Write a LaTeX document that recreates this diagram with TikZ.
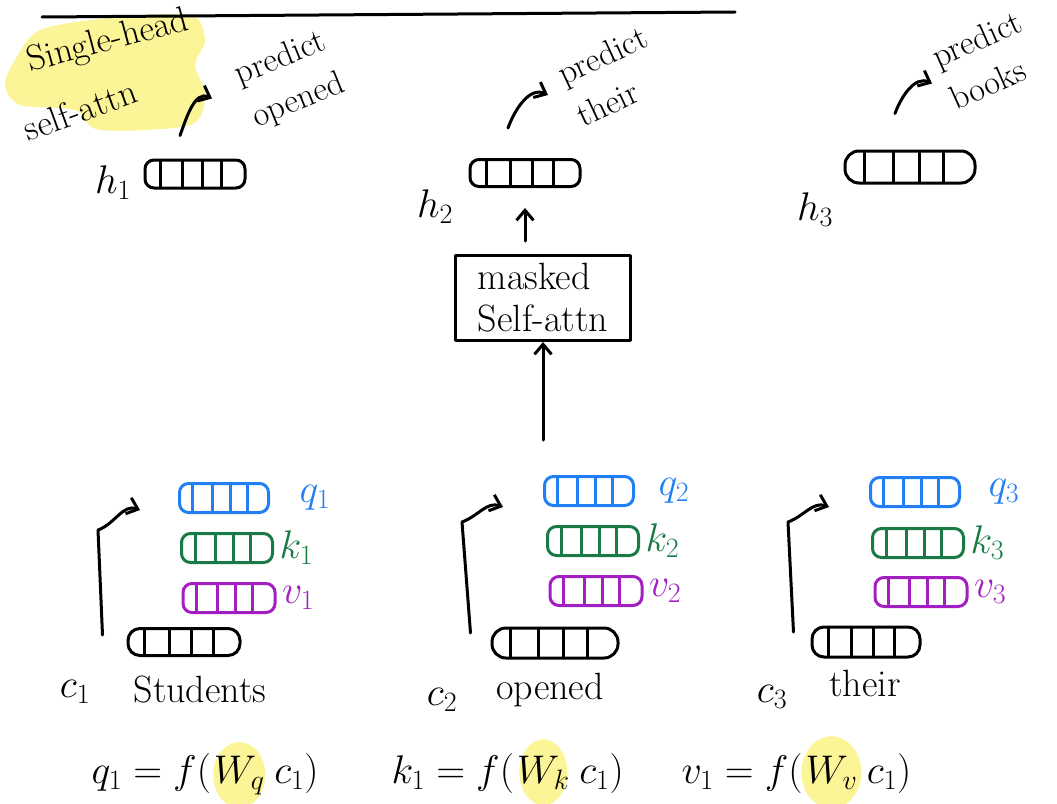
\RequirePackage{fix-cm}
\documentclass[tikz,border=0pt]{standalone}
\usetikzlibrary{positioning,calc,arrows.meta,backgrounds}
\definecolor{qblue}{HTML}{1F7FF3}
\definecolor{kgreen}{HTML}{1A7A45}
\definecolor{vpurple}{HTML}{A41FC2}
\definecolor{hlyellow}{HTML}{FBF597}
\begin{document}
\begin{tikzpicture}[x=1pt,y=1pt,line width=3pt,line cap=round,line join=round,
  vecbox/.style={draw,rounded corners=9pt,minimum height=29pt,inner sep=0pt,
    path picture={\foreach \f in {0.15,0.37,0.57,0.76}
      \draw ($(path picture bounding box.south west)!\f!(path picture bounding box.south east)$) -- ($(path picture bounding box.north west)!\f!(path picture bounding box.north east)$);}},
  qvec/.style={vecbox,color=qblue,minimum width=89pt},
  kvec/.style={vecbox,color=kgreen,minimum width=91pt},
  vvec/.style={vecbox,color=vpurple,minimum width=92pt},
  arr/.style={-{Straight Barb[length=10pt,width=17pt]}},
  hand/.style={font=\fontsize{34}{46}\selectfont,align=left,inner sep=0pt},
  lbl/.style={font=\fontsize{40}{42}\selectfont,inner sep=0pt},
  eqn/.style={font=\fontsize{40}{44}\selectfont,inner sep=0pt,anchor=base west}]
\useasboundingbox (0,0) rectangle (1057,-803);
\draw (42,-17) -- (735,-12);
% title
\node[hand,font=\fontsize{36}{40}\selectfont,rotate=15] (title1) at (108,-42) {Single-head};
\node[hand,font=\fontsize{36}{40}\selectfont,rotate=20] (title2) at (80,-110) {self-attn};
% top row: outputs
\node[vecbox,minimum width=100pt,minimum height=28pt] (h1) at (195,-174) {};
\node[vecbox,minimum width=110pt,minimum height=27pt] (h2) at (525,-173) {};
\node[vecbox,minimum width=130pt,minimum height=32pt,rounded corners=14pt] (h3) at (910,-167) {};
\node[lbl] (h1l) at (113,-183) {$h_1$};
\node[lbl] (h2l) at (435,-207) {$h_2$};
\node[lbl] (h3l) at (815,-210) {$h_3$};
\node[hand,rotate=22] (p1) at (290,-80) {predict\\opened};
\node[hand,rotate=25] (p2) at (612,-76) {predict\\their};
\node[hand,rotate=24] (p3) at (986,-60) {predict\\books};
\draw[arr] ([shift={(-15,23)}]h1.north) to[out=70,in=155] ([shift={(17,60)}]h1.north);
\draw[arr] ([shift={(-17,30)}]h2.north) to[out=70,in=155] ([shift={(23,63)}]h2.north);
\draw[arr] ([shift={(-15,36)}]h3.north) to[out=70,in=155] ([shift={(22,66)}]h3.north);
\node[draw,hand,font=\fontsize{38}{42}\selectfont,minimum width=175pt,minimum height=85pt] (mask) at (543,-298) {masked\\Self-attn};
\draw[arr,shorten <=13pt,shorten >=20pt] (h2.south |- mask.north) -- (h2.south);
% bottom row: inputs and q, k, v
\node[vecbox,minimum width=112pt,minimum height=27pt,rounded corners=12pt] (c1) at (184,-642) {};
\node[vecbox,minimum width=126pt,minimum height=30pt,rounded corners=14pt] (c2) at (555,-643) {};
\node[vecbox,minimum width=108pt,minimum height=30pt,rounded corners=12pt] (c3) at (866,-642) {};
\node[qvec] (q1) at (224,-498) {}; \node[kvec] (k1) at (227,-548) {}; \node[vvec] (v1) at (229,-598) {};
\node[qvec] (q2) at (589,-491) {}; \node[kvec] (k2) at (593,-541) {}; \node[vvec] (v2) at (596,-591) {};
\node[qvec] (q3) at (915,-492) {}; \node[kvec] (k3) at (918,-543) {}; \node[vvec] (v3) at (921,-592) {};
\node[lbl,qblue,right=28pt of q1] (q1l) {$q_1$}; \node[lbl,kgreen,right=4pt of k1] (k1l) {$k_1$}; \node[lbl,vpurple,right=4pt of v1] (v1l) {$v_1$};
\node[lbl,qblue,right=22pt of q2] (q2l) {$q_2$}; \node[lbl,kgreen,right=4pt of k2] (k2l) {$k_2$}; \node[lbl,vpurple,right=4pt of v2] (v2l) {$v_2$};
\node[lbl,qblue,right=26pt of q3] (q3l) {$q_3$}; \node[lbl,kgreen,right=4pt of k3] (k3l) {$k_3$}; \node[lbl,vpurple,right=4pt of v3] (v3l) {$v_3$};
\draw[arr] ([shift={(-24,7)}]c1.west) -- ([shift={(-80,-32)}]q1.west) to[out=20,in=160] ([shift={(-38,-12)}]q1.west);
\draw[arr] ([shift={(-20,10)}]c2.west) -- ([shift={(-81,-31)}]q2.west) to[out=20,in=160] ([shift={(-40,-16)}]q2.west);
\draw[arr] ([shift={(-17,10)}]c3.west) -- ([shift={(-81,-30)}]q3.west) to[out=20,in=160] ([shift={(-40,-15)}]q3.west);
\draw[arr,shorten <=35pt] (mask.south |- q2.north) -- (mask.south);
\node[lbl] (c1l) at (75,-692) {$c_1$};
\node[lbl] (c2l) at (442,-700) {$c_2$};
\node[lbl] (c3l) at (772,-697) {$c_3$};
\node[hand,font=\fontsize{38}{40}\selectfont] (w1) at (200,-690) {Students};
\node[hand,font=\fontsize{38}{40}\selectfont] (w2) at (550,-690) {opened};
\node[hand,font=\fontsize{38}{40}\selectfont] (w3) at (865,-683) {their};
% equations
\node[eqn] (e1a) at (90,-783) {$q_1=f($}; \node[eqn] (wq) at (e1a.base east) {$W_q$}; \node[eqn] (e1b) at (wq.base east) {$\,c_1)$};
\node[eqn] (e2a) at (390,-783) {$k_1=f($}; \node[eqn] (wk) at (e2a.base east) {$W_k$}; \node[eqn] (e2b) at (wk.base east) {$\,c_1)$};
\node[eqn] (e3a) at (680,-783) {$v_1=f($}; \node[eqn] (wv) at (e3a.base east) {$W_v$}; \node[eqn] (e3b) at (wv.base east) {$\,c_1)$};
\begin{scope}[on background layer]
\fill[hlyellow] plot[smooth cycle] coordinates {(40,-30) (110,-18) (190,-15) (205,-40) (195,-65) (205,-95) (190,-125) (100,-130) (75,-110) (20,-105) (5,-85) (15,-60)};
\fill[hlyellow] (wq) ellipse[x radius=26,y radius=33];
\fill[hlyellow] (wk) ellipse[x radius=24,y radius=33];
\fill[hlyellow] (wv) ellipse[x radius=30,y radius=36];
\end{scope}
\end{tikzpicture}
\end{document}
